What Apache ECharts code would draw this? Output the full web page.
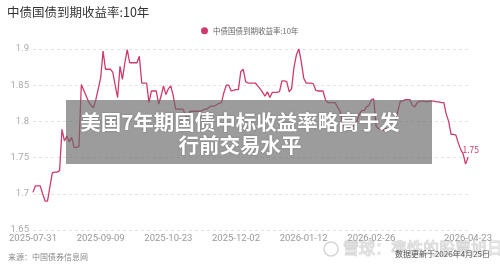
<!DOCTYPE html>
<html>
<head>
<meta charset="utf-8">
<script src="https://cdn.jsdelivr.net/npm/echarts@6/dist/echarts.min.js"></script>
<style>
html,body{margin:0;padding:0;background:#fff;}
#c{width:500px;height:266px;}
</style>
</head>
<body>
<div id="c"></div>
<script>
var titleText = '中债国债到期收益率:10年';
var seriesName = '中债国债到期收益率:10年';
var sourceText = '来源：中国债券信息网';
var updateText = '数据更新于2026年4月25日';
var bannerLines = ['美国7年期国债中标收益率略高于发', '行前交易水平'];
var watermarkText = '雪球：準性的股票旭日';

var dates = [
'2025-07-31',
'2025-08-01','2025-08-04','2025-08-05','2025-08-06','2025-08-07','2025-08-08',
'2025-08-11','2025-08-12','2025-08-13','2025-08-14','2025-08-15',
'2025-08-18','2025-08-19','2025-08-20','2025-08-21','2025-08-22',
'2025-08-25','2025-08-26','2025-08-27','2025-08-28','2025-08-29',
'2025-09-01','2025-09-02','2025-09-03','2025-09-04','2025-09-05',
'2025-09-08','2025-09-09','2025-09-10','2025-09-11','2025-09-12',
'2025-09-15','2025-09-16','2025-09-17','2025-09-18','2025-09-19',
'2025-09-22','2025-09-23','2025-09-24','2025-09-25','2025-09-26',
'2025-09-28','2025-09-29','2025-09-30',
'2025-10-09','2025-10-10','2025-10-11',
'2025-10-13','2025-10-14','2025-10-15','2025-10-16','2025-10-17',
'2025-10-20','2025-10-21','2025-10-22','2025-10-23','2025-10-24',
'2025-10-27','2025-10-28','2025-10-29','2025-10-30','2025-10-31',
'2025-11-03','2025-11-04','2025-11-05','2025-11-06','2025-11-07',
'2025-11-10','2025-11-11','2025-11-12','2025-11-13','2025-11-14',
'2025-11-17','2025-11-18','2025-11-19','2025-11-20','2025-11-21',
'2025-11-24','2025-11-25','2025-11-26','2025-11-27','2025-11-28',
'2025-12-01','2025-12-02','2025-12-03','2025-12-04','2025-12-05',
'2025-12-08','2025-12-09','2025-12-10','2025-12-11','2025-12-12',
'2025-12-15','2025-12-16','2025-12-17','2025-12-18','2025-12-19',
'2025-12-22','2025-12-23','2025-12-24','2025-12-25','2025-12-26',
'2025-12-29','2025-12-30','2025-12-31',
'2026-01-04','2026-01-05','2026-01-06','2026-01-07','2026-01-08','2026-01-09',
'2026-01-12','2026-01-13','2026-01-14','2026-01-15','2026-01-16',
'2026-01-19','2026-01-20','2026-01-21','2026-01-22','2026-01-23',
'2026-01-26','2026-01-27','2026-01-28','2026-01-29','2026-01-30',
'2026-02-02','2026-02-03','2026-02-04','2026-02-05','2026-02-06',
'2026-02-09','2026-02-10','2026-02-11','2026-02-12','2026-02-13','2026-02-14',
'2026-02-24','2026-02-25','2026-02-26','2026-02-27','2026-02-28',
'2026-03-02','2026-03-03','2026-03-04','2026-03-05','2026-03-06',
'2026-03-09','2026-03-10','2026-03-11','2026-03-12','2026-03-13',
'2026-03-16','2026-03-17','2026-03-18','2026-03-19','2026-03-20',
'2026-03-23','2026-03-24','2026-03-25','2026-03-26','2026-03-27',
'2026-03-30','2026-03-31','2026-04-01','2026-04-02','2026-04-03',
'2026-04-07','2026-04-08','2026-04-09','2026-04-10',
'2026-04-13','2026-04-14','2026-04-15','2026-04-16','2026-04-17',
'2026-04-20','2026-04-21','2026-04-22','2026-04-23'
];

var yields = [
1.702,1.711,1.711,1.711,1.700,1.690,1.690,1.710,1.729,1.730,
1.730,1.732,1.789,1.773,1.780,1.772,1.778,1.764,1.764,1.765,
1.851,1.843,1.835,1.827,1.822,1.819,1.830,1.845,1.860,1.897,
1.872,1.872,1.872,1.868,1.850,1.833,1.876,1.858,1.881,1.899,
1.881,1.881,1.881,1.881,1.890,1.853,1.853,1.853,1.826,1.842,
1.842,1.842,1.824,1.835,1.849,1.837,1.845,1.849,1.836,1.817,
1.817,1.817,1.817,1.810,1.803,1.814,1.814,1.814,1.814,1.814,
1.815,1.817,1.817,1.820,1.821,1.821,1.823,1.825,1.826,1.840,
1.850,1.850,1.842,1.843,1.844,1.844,1.869,1.872,1.855,1.853,
1.853,1.853,1.853,1.849,1.845,1.840,1.835,1.841,1.833,1.840,
1.840,1.840,1.841,1.856,1.856,1.855,1.841,1.845,1.875,1.892,
1.900,1.883,1.860,1.853,1.853,1.853,1.852,1.843,1.842,1.842,
1.842,1.830,1.826,1.826,1.826,1.826,1.820,1.814,1.800,1.789,
1.789,1.790,1.792,1.795,1.800,1.810,1.815,1.815,1.820,1.822,
1.830,1.831,1.793,1.790,1.790,1.788,1.790,1.790,1.792,1.790,
1.800,1.815,1.828,1.828,1.830,1.830,1.830,1.822,1.820,1.826,
1.828,1.828,1.828,1.827,1.828,1.828,1.828,1.827,1.827,1.826,
1.826,1.810,1.800,1.782,1.782,1.781,1.770,1.761,1.755,1.741,
1.750
];

var yMin = 1.65, yMax = 1.9, yStep = 0.05;
var shownLabelIdx = [0, 28, 56, 84, 112, 140, 180];

var lineColor = '#cf3a6e';
var chart = echarts.init(document.getElementById('c'), null, {renderer: 'canvas'});
var lastIdx = yields.length - 1;
var seriesData = yields.map(function (v, i) {
  if (i === lastIdx) {
    return {value: v, symbolSize: 1, label: {show: true, position: 'right', offset: [-11, -8], formatter: function (p) { return p.value.toFixed(2); }, color: lineColor, fontSize: 8.5}};
  }
  return {value: v, symbolSize: 0};
});

chart.setOption({
  animation: false,
  textStyle: {fontFamily: '"Noto Sans CJK SC", "Noto Sans", sans-serif'},
  title: {
    text: titleText, left: 2, top: 1,
    textStyle: {fontSize: 12.5, fontWeight: 'normal', color: '#333'}
  },
  legend: {
    data: [seriesName], left: 196, top: 22,
    icon: 'circle', itemWidth: 7, itemHeight: 7, itemGap: 5,
    textStyle: {fontSize: 7.5, color: '#666'}
  },
  grid: {left: 33, right: 32, top: 49, bottom: 36},
  xAxis: {
    type: 'category', data: dates, boundaryGap: false,
    axisLine: {show: false}, axisTick: {show: false},
    axisLabel: {
      color: '#999', fontSize: 9.5, margin: 4, fontFamily: 'Roboto',
      interval: function (idx) { return shownLabelIdx.indexOf(idx) >= 0; }
    }
  },
  yAxis: {
    type: 'value', min: yMin, max: yMax, interval: yStep,
    axisLine: {show: false}, axisTick: {show: false},
    axisLabel: {color: '#aaa', fontSize: 9.5, margin: 4, fontFamily: 'Roboto',
      formatter: function (v) { return String(+v.toFixed(2)); }},
    splitLine: {lineStyle: {color: '#e3e3e3', type: [3, 3]}}
  },
  series: [{
    name: seriesName, type: 'line', data: seriesData,
    showSymbol: true, showAllSymbol: true, symbol: 'circle',
    lineStyle: {color: lineColor, width: 1.3},
    itemStyle: {color: lineColor}
  }],
  graphic: [
    {type: 'text', left: 8, top: 253, style: {text: sourceText, fontSize: 8, fill: '#888', fontFamily: '"Noto Sans CJK SC"'}},
    {type: 'circle', shape: {cx: 331, cy: 249, r: 7}, style: {fill: 'none', stroke: 'rgba(150,150,150,0.4)', lineWidth: 1.5}, z: 50},
    {type: 'text', x: 343, y: 240, style: {text: watermarkText, fontSize: 16, fill: 'rgba(255,255,255,0.2)', stroke: 'rgba(150,150,150,0.4)', lineWidth: 1, fontFamily: '"Noto Sans CJK SC"'}, z: 50},
    {type: 'text', x: 490, y: 250, style: {text: updateText, fontSize: 8, fill: '#555', align: 'right', fontFamily: '"Noto Sans CJK SC"'}, z: 51},
    {type: 'rect', shape: {x: 66, y: 100, width: 366, height: 64}, style: {fill: 'rgba(105,105,105,0.66)'}, z: 100},
    {type: 'text', x: 240, y: 122, style: {text: bannerLines[0], fontSize: 20.5, fontWeight: 'bold', fill: '#fff', align: 'center', verticalAlign: 'middle', fontFamily: '"Noto Sans CJK SC"', textShadowColor: 'rgba(0,0,0,0.25)', textShadowBlur: 2}, z: 101},
    {type: 'text', x: 240, y: 145, style: {text: bannerLines[1], fontSize: 20.5, fontWeight: 'bold', fill: '#fff', align: 'center', verticalAlign: 'middle', fontFamily: '"Noto Sans CJK SC"', textShadowColor: 'rgba(0,0,0,0.25)', textShadowBlur: 2}, z: 101}
  ]
});
</script>
</body>
</html>
